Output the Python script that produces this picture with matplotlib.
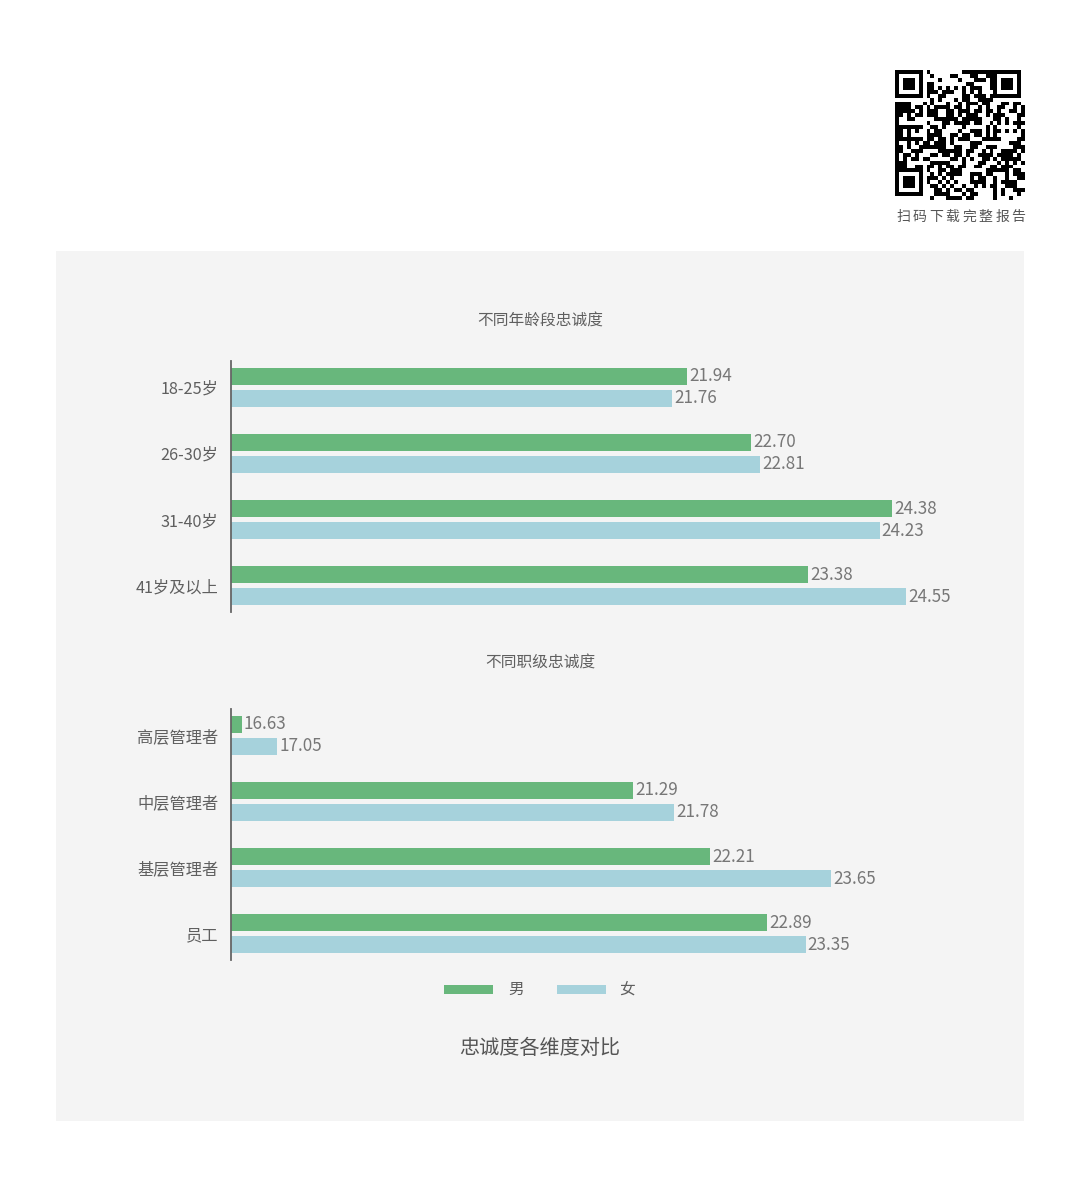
import matplotlib
matplotlib.use("Agg")
import matplotlib.pyplot as plt
from matplotlib.patches import Rectangle
import numpy as np

plt.rcParams['font.family'] = ['Noto Sans CJK SC', 'DejaVu Sans']
plt.rcParams['font.weight'] = 'light'

# ---- data ----
age_title = "不同年龄段忠诚度"
age_categories = ["18-25岁", "26-30岁", "31-40岁", "41岁及以上"]
age_male = [21.94, 22.70, 24.38, 23.38]
age_female = [21.76, 22.81, 24.23, 24.55]

level_title = "不同职级忠诚度"
level_categories = ["高层管理者", "中层管理者", "基层管理者", "员工"]
level_male = [16.63, 21.29, 22.21, 22.89]
level_female = [17.05, 21.78, 23.65, 23.35]

series_names = ["男", "女"]
chart_title = "忠诚度各维度对比"
qr_caption = "扫码下载完整报告"

# ---- style ----
W, H = 1080, 1191
GREEN = "#68b77c"
BLUE = "#a6d2dc"
PANEL = "#f4f4f4"
TEXT = "#5f5f5f"
VAL = "#777777"

fig = plt.figure(figsize=(W / 100, H / 100), dpi=100)
fig.patch.set_facecolor("white")

def fx(px):
    return px / W

def fy(py):
    return 1 - py / H

# panel background
fig.patches.append(Rectangle((fx(56), fy(1121)), fx(1024) - fx(56), fy(251) - fy(1121),
                             transform=fig.transFigure, facecolor=PANEL, edgecolor="none", zorder=-10))

XMIN = 16.5
PX_PER_UNIT = 83.9
AX_LEFT = 231
AX_RIGHT = 1000
XMAX = XMIN + (AX_RIGHT - AX_LEFT) / PX_PER_UNIT

BAR_H = 17 / 66
OFF = 11 / 66

def draw_chart(top_px, cats, male, female):
    bottom_px = top_px + 251
    ax = fig.add_axes([fx(AX_LEFT), fy(bottom_px), fx(AX_RIGHT) - fx(AX_LEFT), fy(top_px) - fy(bottom_px)])
    ax.set_zorder(5)
    ax.patch.set_visible(False)
    y = np.arange(len(cats))
    ax.barh(y - OFF, np.array(male) - XMIN, left=XMIN, height=BAR_H, color=GREEN, zorder=2)
    ax.barh(y + OFF, np.array(female) - XMIN, left=XMIN, height=BAR_H, color=BLUE, zorder=2)
    for yi, m, f in zip(y, male, female):
        ax.annotate(f"{m:.2f}", (m, yi - OFF), xytext=(1.5, 0), textcoords="offset points",
                    va="center", ha="left", fontsize=12.3, color=VAL)
        ax.annotate(f"{f:.2f}", (f, yi + OFF), xytext=(1.5, 0), textcoords="offset points",
                    va="center", ha="left", fontsize=12.3, color=VAL)
    ax.set_xlim(XMIN, XMAX)
    ax.set_ylim(len(cats) - 1 + 0.40, -0.40)
    ax.set_yticks(y)
    ax.set_yticklabels(cats, fontsize=11.7, color=TEXT)
    ax.tick_params(axis="y", length=0, pad=9)
    ax.set_xticks([])
    for s in ["top", "right", "bottom"]:
        ax.spines[s].set_visible(False)
    ax.spines["left"].set_color("#666666")
    ax.spines["left"].set_linewidth(1.3)
    return ax

draw_chart(361, age_categories, age_male, age_female)
draw_chart(709, level_categories, level_male, level_female)

# sub titles
fig.text(fx(540), fy(321), age_title, ha="center", va="center", fontsize=11.3, color=TEXT)
fig.text(fx(540), fy(663), level_title, ha="center", va="center", fontsize=11.3, color=TEXT)

# legend
for (x0, col, name, tx) in [(444, GREEN, series_names[0], 516), (557, BLUE, series_names[1], 627)]:
    fig.patches.append(Rectangle((fx(x0), fy(994)), fx(49), fy(985) - fy(994),
                                 transform=fig.transFigure, facecolor=col, edgecolor="none"))
    fig.text(fx(tx), fy(989), name, ha="center", va="center", fontsize=11.3, color=TEXT)

# chart title
fig.text(fx(540), fy(1048), chart_title, ha="center", va="center", fontsize=14.5, color="#555555")

# QR-like decoration
n = 33
grid = np.zeros((n, n))
ii, jj = np.meshgrid(np.arange(n), np.arange(n), indexing="ij")
h = (ii * 73856093) ^ (jj * 19349663) ^ (ii * jj * 83492791)
grid[(h % 97) < 50] = 1

def finder(r, c):
    grid[r:r + 8, c:c + 8] = 0
    rr = min(r, n - 7)
    cc = min(c, n - 7)
    grid[rr:rr + 7, cc:cc + 7] = 1
    grid[rr + 1:rr + 6, cc + 1:cc + 6] = 0
    grid[rr + 2:rr + 5, cc + 2:cc + 5] = 1

finder(0, 0)
finder(0, n - 8)
finder(n - 8, 0)
qax = fig.add_axes([fx(895), fy(200), fx(130), fy(70) - fy(200)])
qax.imshow(grid, cmap="Greys", interpolation="nearest", vmin=0, vmax=1)
qax.axis("off")

# caption with letter spacing
cx0 = 903
for k, ch in enumerate(qr_caption):
    fig.text(fx(cx0 + k * 16.5), fy(217), ch, ha="center", va="center", fontsize=10, color="#555555")

fig.savefig("out.png", dpi=100, facecolor="white")
